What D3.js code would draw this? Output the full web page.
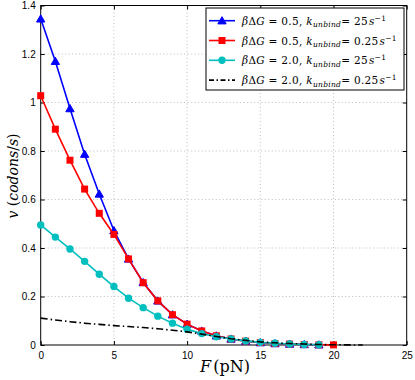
<!DOCTYPE html>
<html lang="en">
<head>
    <meta charset="UTF-8">
    <title>Velocity vs force</title>
    <style>
        body { margin: 0; background: #fff; }
    </style>
</head>
<body>

    <svg id="svg" width="415" height="380"></svg>

    <script src="https://d3js.org/d3.v7.min.js"></script>
    <script>
        // data
        const forceBlue = d3.range(0, 20)
        const vBlue = [1.345, 1.17, 0.975, 0.787, 0.623, 0.472, 0.355, 0.258, 0.182, 0.125, 0.086, 0.058, 0.038, 0.025, 0.016, 0.010, 0.006, 0.004, 0.002, 0.001]
        const forceRed = d3.range(0, 21)
        const vRed = [1.028, 0.89, 0.762, 0.643, 0.543, 0.456, 0.355, 0.257, 0.182, 0.125, 0.086, 0.058, 0.038, 0.025, 0.016, 0.010, 0.006, 0.004, 0.002, 0.001, 0.0005]
        const forceCyan = d3.range(0, 20)
        const vCyan = [0.495, 0.445, 0.396, 0.345, 0.292, 0.241, 0.193, 0.154, 0.119, 0.09, 0.065, 0.047, 0.034, 0.025, 0.017, 0.011, 0.007, 0.004, 0.002, 0.001]
        const forceBlack = [0, 1, 2, 3, 4, 5, 6, 7, 8, 9, 10, 11, 12, 13, 14, 15, 16, 17, 18, 19, 20, 21, 22]
        const vBlack = [0.111, 0.103, 0.096, 0.09, 0.085, 0.08, 0.076, 0.072, 0.067, 0.061, 0.054, 0.045, 0.035, 0.026, 0.019, 0.013, 0.009, 0.006, 0.004, 0.002, 0.001, 0.0005, 0]

        const xTicks = [0, 5, 10, 15, 20, 25]
        const yTicks = [0, 0.2, 0.4, 0.6, 0.8, 1, 1.2, 1.4]

        const legendRows = [
            { dg: '0.5', k: '25', color: '#0000ff', marker: 'triangle' },
            { dg: '0.5', k: '0.25', color: '#ff0000', marker: 'square' },
            { dg: '2.0', k: '25', color: '#00bfbf', marker: 'circle' },
            { dg: '2.0', k: '0.25', color: '#000000', marker: 'none' }
        ]

        const pLeft = 40.7, pRight = 406.7, pTop = 5.5, pBottom = 345

        const xScale = d3.scaleLinear()
            .domain([0, 25])
            .range([pLeft, pRight])

        const yScale = d3.scaleLinear()
            .domain([0, 1.4])
            .range([pBottom, pTop])

        const svg = d3.select('#svg')

        // dotted grid
        svg.append('g')
            .selectAll('line')
            .data(xTicks.slice(1, -1))
            .enter()
            .append('line')
            .attr('x1', d => xScale(d)).attr('x2', d => xScale(d))
            .attr('y1', pTop).attr('y2', pBottom)
            .attr('stroke', '#bdbdbd')
            .attr('stroke-dasharray', '1,2.5')

        svg.append('g')
            .selectAll('line')
            .data(yTicks.slice(1, -1))
            .enter()
            .append('line')
            .attr('x1', pLeft).attr('x2', pRight)
            .attr('y1', d => yScale(d)).attr('y2', d => yScale(d))
            .attr('stroke', '#bdbdbd')
            .attr('stroke-dasharray', '1,2.5')

        // axes, ticks pointing in like matlab
        const tickFont = g => g.selectAll('text')
            .style('font-family', 'Liberation Sans, Arial, sans-serif')
            .style('font-size', '10px')
            .attr('fill', '#000')

        svg.append('g')
            .attr('transform', `translate(0,${pBottom})`)
            .call(d3.axisBottom(xScale).tickValues(xTicks).tickSize(-4).tickPadding(7).tickFormat(d3.format('d')))
            .call(g => g.select('.domain').remove())
            .call(tickFont)

        svg.append('g')
            .attr('transform', `translate(${pLeft},0)`)
            .call(d3.axisLeft(yScale).tickValues(yTicks).tickSize(-4).tickPadding(5).tickFormat(d => d3.format('~g')(d)))
            .call(g => g.select('.domain').remove())
            .call(tickFont)

        svg.append('g')
            .attr('transform', `translate(0,${pTop})`)
            .call(d3.axisTop(xScale).tickValues(xTicks).tickSize(-4).tickFormat(''))
            .call(g => g.select('.domain').remove())

        svg.append('g')
            .attr('transform', `translate(${pRight},0)`)
            .call(d3.axisRight(yScale).tickValues(yTicks).tickSize(-4).tickFormat(''))
            .call(g => g.select('.domain').remove())

        svg.append('rect')
            .attr('x', pLeft).attr('y', pTop)
            .attr('width', pRight - pLeft).attr('height', pBottom - pTop)
            .attr('fill', 'none')
            .attr('stroke', '#000')
            .attr('stroke-width', 1)

        // series
        const line = d3.line()
            .x(d => xScale(d[0]))
            .y(d => yScale(d[1]))

        const tri = d3.symbol().type(d3.symbolTriangle).size(30)

        function drawSeries(xs, ys, color, marker) {
            const pts = xs.map((x, i) => [x, ys[i]])
            const g = svg.append('g')
            g.append('path')
                .attr('d', line(pts))
                .attr('fill', 'none')
                .attr('stroke', color)
                .attr('stroke-width', 1.6)
            const m = g.selectAll('.m').data(pts).enter()
            if (marker === 'triangle') {
                m.append('path')
                    .attr('d', tri())
                    .attr('transform', d => `translate(${xScale(d[0])},${yScale(d[1]) + 0.8})`)
                    .attr('fill', color)
                    .attr('stroke', color)
            } else if (marker === 'square') {
                m.append('rect')
                    .attr('x', d => xScale(d[0]) - 3.5)
                    .attr('y', d => yScale(d[1]) - 3.5)
                    .attr('width', 7).attr('height', 7)
                    .attr('fill', color)
            } else if (marker === 'circle') {
                m.append('circle')
                    .attr('cx', d => xScale(d[0]))
                    .attr('cy', d => yScale(d[1]))
                    .attr('r', 3.7)
                    .attr('fill', color)
            }
        }

        drawSeries(forceBlue, vBlue, '#0000ff', 'triangle')
        drawSeries(forceRed, vRed, '#ff0000', 'square')
        drawSeries(forceCyan, vCyan, '#00bfbf', 'circle')

        svg.append('path')
            .attr('d', line(forceBlack.map((x, i) => [x, vBlack[i]])))
            .attr('fill', 'none')
            .attr('stroke', '#000')
            .attr('stroke-width', 1.6)
            .attr('stroke-dasharray', '7,3,1.5,3')

        // axis labels
        const serif = 'DejaVu Serif, Liberation Serif, serif'

        const xl = svg.append('text')
            .attr('x', 225).attr('y', 372)
            .attr('text-anchor', 'middle')
            .style('font-family', serif)
            .style('font-size', '16px')
        xl.append('tspan').style('font-style', 'italic').text('F')
        xl.append('tspan').attr('dx', 2).text('(pN)')

        const yl = svg.append('text')
            .attr('transform', 'translate(18,176) rotate(-90)')
            .attr('text-anchor', 'middle')
            .style('font-family', serif)
            .style('font-size', '14px')
        yl.append('tspan').style('font-style', 'italic').text('v')
        yl.append('tspan').text(' (')
        yl.append('tspan').style('font-style', 'italic').text('codons')
        yl.append('tspan').text('/')
        yl.append('tspan').style('font-style', 'italic').text('s')
        yl.append('tspan').text(')')

        // legend
        const lg = svg.append('g')
        lg.append('rect')
            .attr('x', 206).attr('y', 8)
            .attr('width', 198).attr('height', 82)
            .attr('fill', '#fff')
            .attr('stroke', '#000')
            .attr('stroke-width', 1)

        legendRows.forEach((r, i) => {
            const y = 20.7 + i * 19.8
            const row = lg.append('g')
            row.append('line')
                .attr('x1', 209).attr('x2', 235)
                .attr('y1', y).attr('y2', y)
                .attr('stroke', r.color)
                .attr('stroke-width', 1.6)
                .attr('stroke-dasharray', r.marker === 'none' ? '5,2.5,1.5,2.5' : null)
            if (r.marker === 'triangle') {
                row.append('path').attr('d', tri()).attr('transform', `translate(222,${y + 0.8})`)
                    .attr('fill', r.color).attr('stroke', r.color)
            } else if (r.marker === 'square') {
                row.append('rect').attr('x', 218.5).attr('y', y - 3.5).attr('width', 7).attr('height', 7)
                    .attr('fill', r.color)
            } else if (r.marker === 'circle') {
                row.append('circle').attr('cx', 222).attr('cy', y).attr('r', 3.7).attr('fill', r.color)
            }
            const t = row.append('text')
                .attr('x', 242).attr('y', y + 4)
                .style('font-family', serif)
                .style('font-size', '10.5px')
                .style('letter-spacing', '0.3px')
            t.append('tspan').style('font-style', 'italic').text('β')
            t.append('tspan').text('Δ')
            t.append('tspan').style('font-style', 'italic').text('G')
            t.append('tspan').text(` = ${r.dg}, `)
            t.append('tspan').style('font-style', 'italic').text('k')
            t.append('tspan').style('font-style', 'italic').style('font-size', '7.5px').attr('dy', 2.5).text('unbind')
            t.append('tspan').attr('dy', -2.5).text(`= ${r.k}`)
            t.append('tspan').style('font-style', 'italic').attr('dx', 1).text('s')
            t.append('tspan').style('font-size', '7.5px').attr('dy', -4).text('−1')
        })
    </script>
</body>
</html>
